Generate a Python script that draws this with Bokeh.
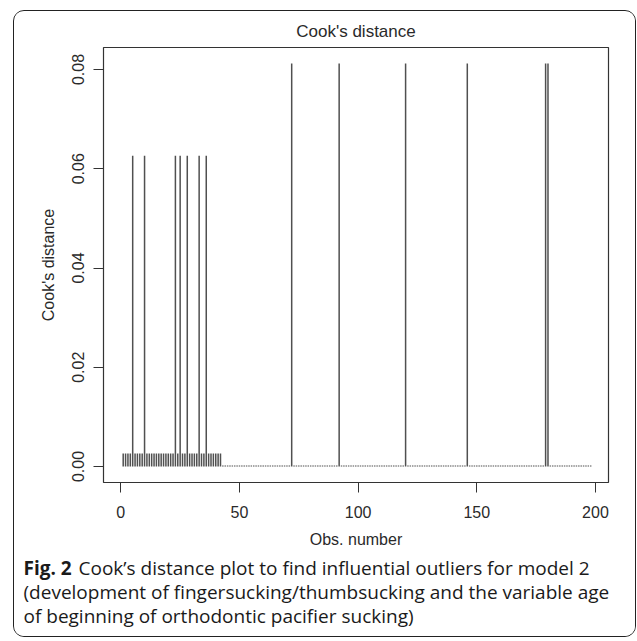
from bokeh.plotting import figure
from bokeh.models import Range1d, Label, FixedTicker, NumeralTickFormatter
from bokeh.layouts import column
from bokeh.embed import file_html
from bokeh.resources import INLINE

# ---- data ----
obs_number = list(range(1, 199))
cooks_d = [
    # obs 1-42
    0.0026, 0.0026, 0.0026, 0.0026, 0.0626, 0.0026, 0.0026, 0.0026, 0.0026, 0.0626,
    0.0026, 0.0026, 0.0026, 0.0026, 0.0026, 0.0026, 0.0026, 0.0026, 0.0026, 0.0026,
    0.0026, 0.0026, 0.0626, 0.0026, 0.0626, 0.0026, 0.0026, 0.0626, 0.0026, 0.0026,
    0.0026, 0.0026, 0.0626, 0.0026, 0.0026, 0.0626, 0.0026, 0.0026, 0.0026, 0.0026,
    0.0026, 0.0026,
    # obs 43-198
    0.0002, 0.0002, 0.0002, 0.0002, 0.0002, 0.0002, 0.0002, 0.0002, 0.0002, 0.0002,
    0.0002, 0.0002, 0.0002, 0.0002, 0.0002, 0.0002, 0.0002, 0.0002, 0.0002, 0.0002,
    0.0002, 0.0002, 0.0002, 0.0002, 0.0002, 0.0002, 0.0002, 0.0002, 0.0002, 0.0812,
    0.0002, 0.0002, 0.0002, 0.0002, 0.0002, 0.0002, 0.0002, 0.0002, 0.0002, 0.0002,
    0.0002, 0.0002, 0.0002, 0.0002, 0.0002, 0.0002, 0.0002, 0.0002, 0.0002, 0.0812,
    0.0002, 0.0002, 0.0002, 0.0002, 0.0002, 0.0002, 0.0002, 0.0002, 0.0002, 0.0002,
    0.0002, 0.0002, 0.0002, 0.0002, 0.0002, 0.0002, 0.0002, 0.0002, 0.0002, 0.0002,
    0.0002, 0.0002, 0.0002, 0.0002, 0.0002, 0.0002, 0.0002, 0.0812, 0.0002, 0.0002,
    0.0002, 0.0002, 0.0002, 0.0002, 0.0002, 0.0002, 0.0002, 0.0002, 0.0002, 0.0002,
    0.0002, 0.0002, 0.0002, 0.0002, 0.0002, 0.0002, 0.0002, 0.0002, 0.0002, 0.0002,
    0.0002, 0.0002, 0.0002, 0.0812, 0.0002, 0.0002, 0.0002, 0.0002, 0.0002, 0.0002,
    0.0002, 0.0002, 0.0002, 0.0002, 0.0002, 0.0002, 0.0002, 0.0002, 0.0002, 0.0002,
    0.0002, 0.0002, 0.0002, 0.0002, 0.0002, 0.0002, 0.0002, 0.0002, 0.0002, 0.0002,
    0.0002, 0.0002, 0.0002, 0.0002, 0.0002, 0.0002, 0.0812, 0.0812, 0.0002, 0.0002,
    0.0002, 0.0002, 0.0002, 0.0002, 0.0002, 0.0002, 0.0002, 0.0002, 0.0002, 0.0002,
    0.0002, 0.0002, 0.0002, 0.0002, 0.0002, 0.0002,
]
x_ticks = [0, 50, 100, 150, 200]
y_ticks = [0.00, 0.02, 0.04, 0.06, 0.08]
title_text = "Cook's distance"
x_label = "Obs. number"
y_label = "Cook's distance"
caption_bold = "Fig. 2"
caption_lines = [
    "Cook\u2019s distance plot to find influential outliers for model 2",
    "(development of fingersucking/thumbsucking and the variable age",
    "of beginning of orthodontic pacifier sucking)",
]

# ---- layout (page pixels) ----
BL, BT = 13, 10          # outer rounded border, top-left
CX, CY = BL + 1, BT + 1  # content origin inside the 1px border
CW, CH = 621, 625        # content size
FL, FR, FT, FB = 103, 608, 47, 482   # plot frame
A_BOTTOM = 553
HA = A_BOTTOM - CY
HB = CH - HA

FONT = "Liberation Sans"
CAP_FONT = "Open Sans"
CAP_SIZE = "19px"
TXT = "#2a2a2a"

p = figure(
    width=CW, height=HA,
    x_range=Range1d(-7.3, 205.5), y_range=Range1d(-0.00322, 0.08443),
    output_backend="svg", toolbar_location=None,
    min_border_left=FL - CX, min_border_right=CX + CW - FR,
    min_border_top=FT - CY, min_border_bottom=A_BOTTOM - FB,
    background_fill_color="white", border_fill_color="white",
)
p.xgrid.visible = False
p.ygrid.visible = False
p.outline_line_color = "#333333"
p.outline_line_width = 1.2

p.segment(x0=obs_number, y0=[0] * len(obs_number), x1=obs_number, y1=cooks_d,
          line_color="#505050", line_width=1.5)

for ax in (p.xaxis[0], p.yaxis[0]):
    ax.axis_line_color = None
    ax.major_tick_in = 0
    ax.major_tick_out = 10
    ax.minor_tick_line_color = None
    ax.major_tick_line_color = "#333333"
    ax.major_label_text_font = FONT
    ax.major_label_text_font_size = "16px"
    ax.major_label_text_color = TXT
    ax.axis_label_text_font = FONT
    ax.axis_label_text_font_size = "16px"
    ax.axis_label_text_font_style = "normal"
    ax.axis_label_text_color = TXT

p.xaxis.ticker = FixedTicker(ticks=x_ticks)
p.yaxis.ticker = FixedTicker(ticks=y_ticks)
p.yaxis.formatter = NumeralTickFormatter(format="0.00")
p.yaxis.major_label_orientation = "vertical"
p.xaxis.major_label_standoff = 13
p.yaxis.major_label_standoff = 9
p.xaxis.axis_label = x_label
p.yaxis.axis_label = y_label
p.xaxis.axis_label_standoff = 10
p.yaxis.axis_label_standoff = 13

p.title.text = title_text
p.title.align = "center"
p.title.text_font = FONT
p.title.text_font_size = "17px"
p.title.text_font_style = "normal"
p.title.text_color = TXT
p.title.standoff = 14

# ---- caption panel ----
c = figure(
    width=CW, height=HB,
    x_range=Range1d(0, CW), y_range=Range1d(HB, 0),
    output_backend="svg", toolbar_location=None,
    x_axis_location=None, y_axis_location=None,
    min_border=0, background_fill_color="white", border_fill_color="white",
)
c.xgrid.visible = False
c.ygrid.visible = False
c.outline_line_color = None
for fig in (p, c):
    if "frame_align" in fig.properties():
        fig.frame_align = False

cap_base = [567, 591, 615]
c.add_layout(Label(x=23 - CX, y=cap_base[0] - A_BOTTOM, text=caption_bold,
                   text_align="left", text_baseline="alphabetic",
                   text_font=CAP_FONT, text_font_style="bold",
                   text_font_size=CAP_SIZE, text_color="#1a1a1a"))
cap_x = [78, 23, 23]
for t, cx, cb in zip(caption_lines, cap_x, cap_base):
    c.add_layout(Label(x=cx - CX, y=cb - A_BOTTOM, text=t,
                       text_align="left", text_baseline="alphabetic",
                       text_font=CAP_FONT, text_font_size=CAP_SIZE,
                       text_color="#1a1a1a"))

layout = column(p, c, spacing=0,
                styles={"border": "1.3px solid #222222", "border-radius": "11px",
                        "margin-left": "%dpx" % BL, "margin-top": "%dpx" % BT,
                        "overflow": "hidden"})

open("out.html", "w").write(file_html(layout, INLINE))
